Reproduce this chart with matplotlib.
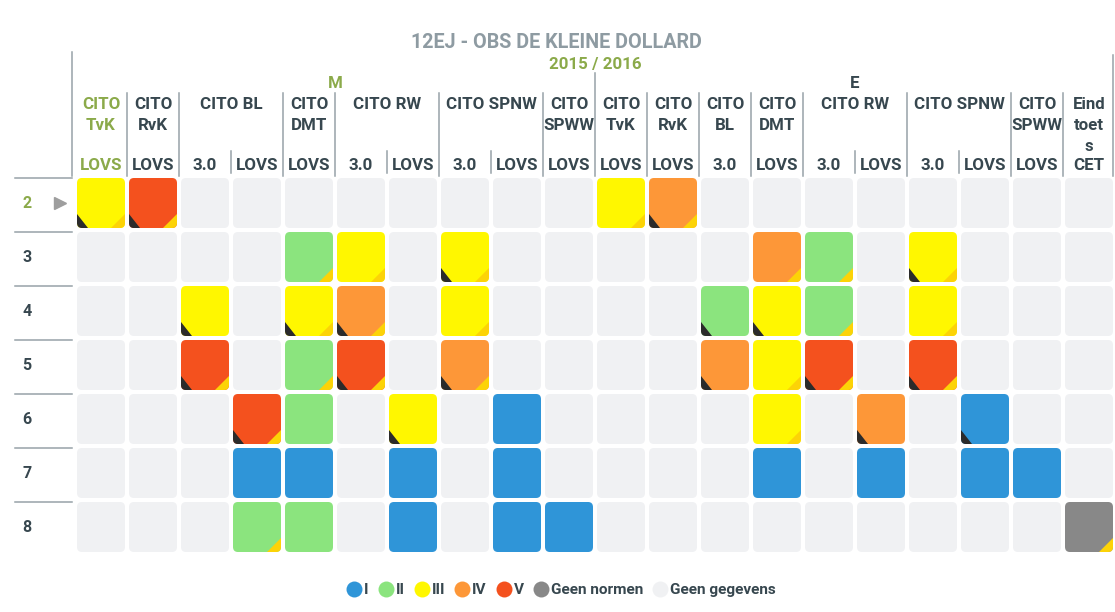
import matplotlib
matplotlib.use("Agg")
import matplotlib.pyplot as plt
from matplotlib.patches import FancyBboxPatch, Polygon
from matplotlib.lines import Line2D
from matplotlib.transforms import blended_transform_factory

plt.rcParams['font.family'] = ['Roboto', 'DejaVu Sans']
plt.rcParams['font.weight'] = 'bold'

# ---------------- data ----------------
title = "12EJ - OBS DE KLEINE DOLLARD"
year = "2015 / 2016"
periods = ["M", "E"]
row_labels = ["2", "3", "4", "5", "6", "7", "8"]

# header groups: (label lines, sub labels)
groups_M = [(["CITO", "TvK"], ["LOVS"]),
            (["CITO", "RvK"], ["LOVS"]),
            (["CITO BL"], ["3.0", "LOVS"]),
            (["CITO", "DMT"], ["LOVS"]),
            (["CITO RW"], ["3.0", "LOVS"]),
            (["CITO SPNW"], ["3.0", "LOVS"]),
            (["CITO", "SPWW"], ["LOVS"])]
groups_E = [(["CITO", "TvK"], ["LOVS"]),
            (["CITO", "RvK"], ["LOVS"]),
            (["CITO", "BL"], ["3.0"]),
            (["CITO", "DMT"], ["LOVS"]),
            (["CITO RW"], ["3.0", "LOVS"]),
            (["CITO SPNW"], ["3.0", "LOVS"]),
            (["CITO", "SPWW"], ["LOVS"]),
            (["Eind", "toet", "s"], ["CET"])]

# level codes: 0 = geen gegevens, 1..5 = I..V, 6 = geen normen
levels = [
    [3, 5, 0, 0, 0, 0, 0, 0, 0, 0, 3, 4, 0, 0, 0, 0, 0, 0, 0, 0],
    [0, 0, 0, 0, 2, 3, 0, 3, 0, 0, 0, 0, 0, 4, 2, 0, 3, 0, 0, 0],
    [0, 0, 3, 0, 3, 4, 0, 3, 0, 0, 0, 0, 2, 3, 2, 0, 3, 0, 0, 0],
    [0, 0, 5, 0, 2, 5, 0, 4, 0, 0, 0, 0, 4, 3, 5, 0, 5, 0, 0, 0],
    [0, 0, 0, 5, 2, 0, 3, 0, 1, 0, 0, 0, 0, 3, 0, 4, 0, 1, 0, 0],
    [0, 0, 0, 1, 1, 0, 1, 0, 1, 0, 0, 0, 0, 1, 0, 1, 0, 1, 1, 0],
    [0, 0, 0, 2, 2, 0, 1, 0, 1, 1, 0, 0, 0, 0, 0, 0, 0, 0, 0, 6],
]
# corner flags per row: columns with black (bottom-left) / yellow (bottom-right) corner
black_flags = [[0, 1, 11], [7, 16], [2, 4, 5, 12, 13], [2, 5, 7, 12, 14, 16],
               [3, 6, 15, 17], [], []]
yellow_flags = [[0, 1, 10, 11], [4, 5, 7, 13, 14, 16], [4, 5, 7, 14, 16],
                [2, 4, 5, 7, 13, 14, 16], [3, 13], [], [3, 19]]

legend_labels = ["I", "II", "III", "IV", "V", "Geen normen", "Geen gegevens"]
legend_codes = [1, 2, 3, 4, 5, 6, 0]
level_colors = ["#F0F1F3", "#2F95D8", "#8BE47E", "#FFF700", "#FD9738", "#F4511E", "#888888"]

# ---------------- layout ----------------
W, H = 1115, 612
fig = plt.figure(figsize=(W / 100, H / 100), dpi=100)
fig.patch.set_facecolor("white")

ncols, nrows = 20, 7
gx0, gx1 = 75, 1115
gy0, gy1 = 176, 554
ax = fig.add_axes([gx0 / W, 1 - gy1 / H, (gx1 - gx0) / W, (gy1 - gy0) / H])
ax.set_xlim(-0.5, ncols - 0.5)
ax.set_ylim(nrows - 0.5, -0.5)
ax.axis("off")

DARK = "#37474F"
GREEN = "#8BAA4A"
LINE = "#97A2A8"
HFS = 12.2

def fy(p):
    return 1 - p / H

def fx(p):
    return p / W

bx = blended_transform_factory(ax.transData, fig.transFigure)
by = blended_transform_factory(fig.transFigure, ax.transData)

cw = 48 / 52.0
ch = 50 / 54.0
rnd = 5 / 53.0
bl_w, bl_h = 11 / 52.0, 14 / 54.0
yl_w, yl_h = 14 / 52.0, 14 / 54.0

for r, row in enumerate(levels):
    for c, lv in enumerate(row):
        x0 = c - cw / 2
        y0 = r - ch / 2
        patch = FancyBboxPatch((x0, y0), cw, ch,
                               boxstyle=f"round,pad=0,rounding_size={rnd}",
                               facecolor=level_colors[lv], edgecolor="none")
        ax.add_patch(patch)
        x1, y1 = x0 + cw, y0 + ch
        if c in black_flags[r]:
            tri = Polygon([(x0, y1), (x0, y1 - bl_h), (x0 + bl_w, y1)],
                          closed=True, facecolor="#2B2B2B", edgecolor="none")
            ax.add_patch(tri)
            tri.set_clip_path(patch)
        if c in yellow_flags[r]:
            tri = Polygon([(x1, y1), (x1, y1 - yl_h), (x1 - yl_w, y1)],
                          closed=True, facecolor="#FCD307", edgecolor="none")
            ax.add_patch(tri)
            tri.set_clip_path(patch)

# row labels and separator lines
for r, lab in enumerate(row_labels):
    col = GREEN if r == 0 else DARK
    ax.text(fx(27), r, lab, transform=by, ha="center", va="center",
            fontsize=11.5, color=col, fontweight="bold")
    ax.add_line(Line2D([fx(15), fx(72)], [r - 0.5 + 0.03, r - 0.5 + 0.03],
                       transform=by, color=LINE, lw=1.1, clip_on=False))
ax.plot([fx(60)], [0], transform=by, marker=">", ms=8, color="#9E9E9E",
        clip_on=False, linestyle="none")

# title
fig.text(fx(556), fy(43), title, ha="center", va="center", fontsize=14.2,
         color="#8E9BA2", fontweight="bold")
ax.text(9.5, fy(64), year, transform=bx, ha="center", va="center",
        fontsize=12.2, color=GREEN, fontweight="bold")

def vline(xd, ytop, ybot):
    ax.add_line(Line2D([xd, xd], [fy(ytop), fy(ybot)], transform=bx,
                       color=LINE, lw=1.1, clip_on=False))

# header
vline(-0.56, 52, 176)
vline(19.46, 55, 176)
for p, (groups, start) in enumerate([(groups_M, 0), (groups_E, 10)]):
    pc = GREEN if p == 0 else DARK
    ax.text(start + 4.5, fy(84), periods[p], transform=bx, ha="center",
            va="center", fontsize=HFS, color=pc, fontweight="bold")
    c = start
    for gi, (lines, subs) in enumerate(groups):
        n = len(subs)
        center = c + (n - 1) / 2
        tcol = GREEN if (p == 0 and gi == 0) else DARK
        for li, t in enumerate(lines):
            ax.text(center, fy(104.5 + 21 * li), t, transform=bx, ha="center",
                    va="center", fontsize=HFS, color=tcol, fontweight="bold")
        for si, s in enumerate(subs):
            ax.text(c + si, fy(165.5), s, transform=bx, ha="center", va="center",
                    fontsize=HFS, color=tcol, fontweight="bold")
            if si > 0:
                vline(c + si - 0.5, 151, 173)
        if gi > 0:
            vline(c - 0.5, 93, 176)
        elif p == 1:
            vline(c - 0.5, 73, 176)
        c += n

# legend
handles = [Line2D([], [], marker="o", linestyle="none", markersize=11.5,
                  markerfacecolor=level_colors[code], markeredgecolor="none")
           for code in legend_codes]
leg = fig.legend(handles, legend_labels, loc="center", ncol=7,
                 bbox_to_anchor=(fx(561), fy(590)), frameon=False,
                 handletextpad=0.15, columnspacing=0.6, handlelength=1.0,
                 prop={"family": "Roboto", "weight": "bold", "size": 11.1})
for t in leg.get_texts():
    t.set_color(DARK)

fig.savefig("out.png", dpi=100, facecolor="white")
